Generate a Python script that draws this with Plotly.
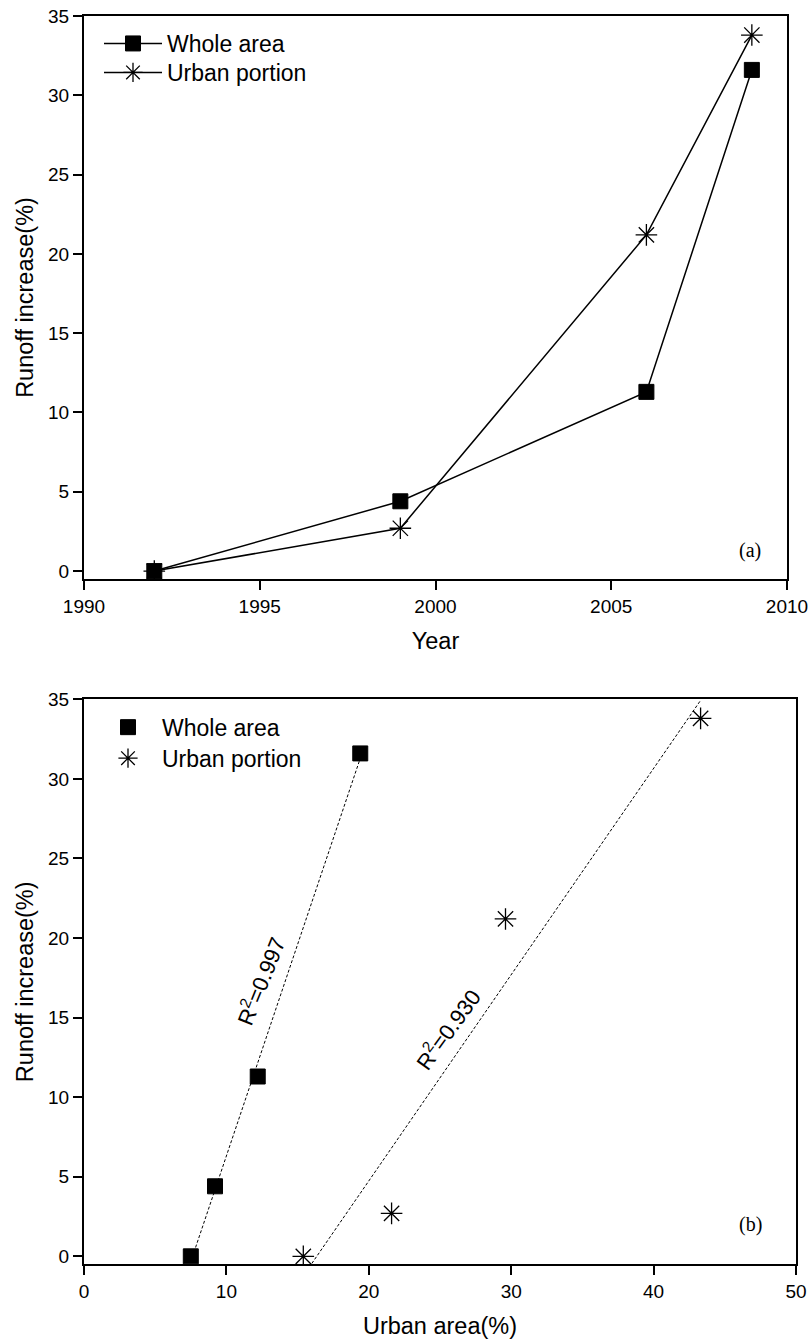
import numpy as np
import plotly.graph_objects as go

# ---- data ----
years = [1992, 1999, 2006, 2009]
whole_runoff = [0.0, 4.4, 11.3, 31.6]
urban_runoff = [0.0, 2.7, 21.2, 33.8]

whole_urban_area = [7.5, 9.2, 12.2, 19.4]
urban_urban_area = [15.4, 21.6, 29.6, 43.3]

r2_whole = "0.997"
r2_urban = "0.930"

year_ticks = [1990, 1995, 2000, 2005, 2010]
area_ticks = [0, 10, 20, 30, 40, 50]
runoff_ticks = [0, 5, 10, 15, 20, 25, 30, 35]

FONT = "Arial, Liberation Sans, sans-serif"
SERIF = "Liberation Serif, Times New Roman, serif"

W, H = 809, 1339


def px(xpage):
    return xpage / W


def py(ypage):
    return 1 - ypage / H


fig = go.Figure()

# ---- panel (a) ----
fig.add_trace(go.Scatter(
    x=years, y=urban_runoff, mode="lines+markers", name="Urban portion",
    line=dict(color="black", width=1.5),
    marker=dict(symbol="asterisk-open", size=18, color="black",
                line=dict(color="black", width=1.3)),
    xaxis="x", yaxis="y", legend="legend2"))
fig.add_trace(go.Scatter(
    x=years, y=whole_runoff, mode="lines+markers", name="Whole area",
    line=dict(color="black", width=1.5),
    marker=dict(symbol="square", size=15, color="black",
                line=dict(color="black", width=1)),
    xaxis="x", yaxis="y", legend="legend"))

# ---- panel (b) ----
def fit_line(xs, ys):
    k, b = np.polyfit(xs, ys, 1)
    xx = np.array([min(xs), max(xs)])
    return xx, k * xx + b


fx, fy = fit_line(whole_urban_area, whole_runoff)
fig.add_trace(go.Scatter(x=fx, y=fy, mode="lines", showlegend=False,
                         line=dict(color="black", width=1, dash="3px,2px"),
                         xaxis="x2", yaxis="y2"))
ux, uy = fit_line(urban_urban_area, urban_runoff)
fig.add_trace(go.Scatter(x=ux, y=uy, mode="lines", showlegend=False,
                         line=dict(color="black", width=1, dash="3px,2px"),
                         xaxis="x2", yaxis="y2"))

fig.add_trace(go.Scatter(
    x=whole_urban_area, y=whole_runoff, mode="markers", name="Whole area",
    marker=dict(symbol="square", size=15, color="black",
                line=dict(color="black", width=1)),
    xaxis="x2", yaxis="y2", legend="legend3"))
fig.add_trace(go.Scatter(
    x=urban_urban_area, y=urban_runoff, mode="markers", name="Urban portion",
    marker=dict(symbol="asterisk-open", size=18, color="black",
                line=dict(color="black", width=1.3)),
    xaxis="x2", yaxis="y2", legend="legend4"))

axis_common = dict(
    showline=True, linewidth=2, linecolor="black", mirror=True,
    ticks="outside", ticklen=9, tickwidth=2, tickcolor="black",
    showgrid=False, zeroline=False,
    tickfont=dict(family=FONT, size=19, color="black"),
    title_font=dict(family=FONT, size=23.5, color="black"),
    automargin=False, ticklabeloverflow="allow",
)


def leg(xpage, row_center_page):
    return dict(x=px(xpage), y=py(row_center_page - 21), xanchor="left", yanchor="top",
                bgcolor="rgba(0,0,0,0)", font=dict(family=FONT, size=23, color="black"),
                itemwidth=58, tracegroupgap=0)


fig.update_layout(
    width=W, height=H,
    margin=dict(l=0, r=0, t=0, b=0),
    paper_bgcolor="white", plot_bgcolor="white",
    xaxis=dict(domain=[px(84), px(787)], range=[1990, 2010], tickvals=year_ticks,
               anchor="y", title=dict(text="Year", standoff=17), **axis_common),
    yaxis=dict(domain=[py(579), py(16)], range=[-0.5, 35], tickvals=runoff_ticks,
               anchor="x", title=dict(text="Runoff increase(%)", standoff=8), **axis_common),
    xaxis2=dict(domain=[px(84), px(796)], range=[0, 50], tickvals=area_ticks,
                anchor="y2", title=dict(text="Urban area(%)", standoff=17), **axis_common),
    yaxis2=dict(domain=[py(1264.3), py(699.3)], range=[-0.5, 35], tickvals=runoff_ticks,
                anchor="x2", title=dict(text="Runoff increase(%)", standoff=8), **axis_common),
    legend=leg(99, 43),
    legend2=leg(99, 72),
    legend3=leg(94, 726.7),
    legend4=leg(94, 757.7),
    showlegend=True,
)

fig.add_annotation(text="(a)", x=px(750), y=py(550), xref="paper", yref="paper",
                   xanchor="center", yanchor="middle",
                   showarrow=False, font=dict(family=SERIF, size=20, color="black"))
fig.add_annotation(text="(b)", x=px(750), y=py(1224), xref="paper", yref="paper",
                   xanchor="center", yanchor="middle",
                   showarrow=False, font=dict(family=SERIF, size=20, color="black"))

fig.add_annotation(text="R<sup>2</sup>=" + r2_whole, x=12.36, y=17.3, xref="x2", yref="y2",
                   showarrow=False, textangle=-68,
                   font=dict(family=FONT, size=22, color="black"))
fig.add_annotation(text="R<sup>2</sup>=" + r2_urban, x=25.5, y=14.3, xref="x2", yref="y2",
                   showarrow=False, textangle=-54,
                   font=dict(family=FONT, size=22, color="black"))

fig.write_html(
    "out.html",
    config={"displayModeBar": False},
    post_script="document.body.style.margin='0';document.body.style.padding='0';"
                "document.body.style.overflow='hidden';"
                "document.documentElement.style.overflow='hidden';",
)
